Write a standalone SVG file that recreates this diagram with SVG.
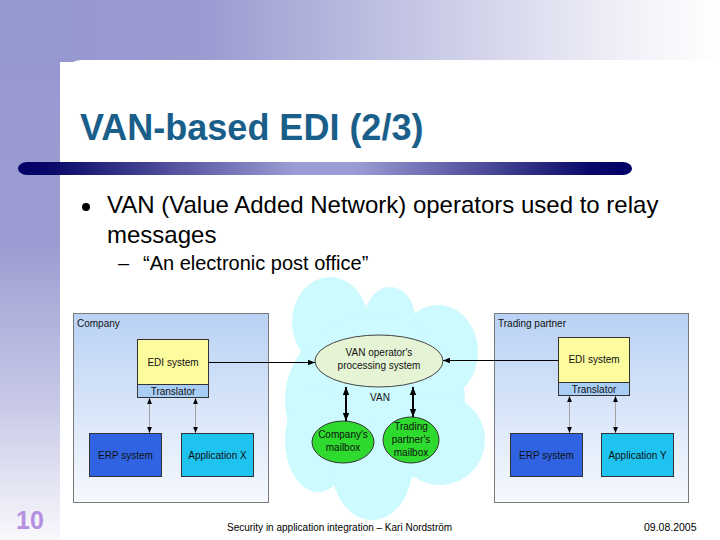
<svg xmlns="http://www.w3.org/2000/svg" width="720" height="540" viewBox="0 0 720 540">
<defs>
<linearGradient id="topband" x1="0" y1="0" x2="1" y2="0">
<stop offset="0" stop-color="#9597CF"/>
<stop offset="0.28" stop-color="#999BD1"/>
<stop offset="0.6" stop-color="#C9CAE6"/>
<stop offset="0.85" stop-color="#EEEEF7"/>
<stop offset="1" stop-color="#FFFFFF"/>
</linearGradient>
<linearGradient id="leftband" x1="0" y1="0" x2="0" y2="1">
<stop offset="0" stop-color="#9597CF"/>
<stop offset="0.45" stop-color="#9B9DD2"/>
<stop offset="0.75" stop-color="#C8C9E7"/>
<stop offset="1" stop-color="#F8F8FC"/>
</linearGradient>
<linearGradient id="bar" x1="0" y1="0" x2="1" y2="0">
<stop offset="0" stop-color="#000066"/>
<stop offset="0.06" stop-color="#0A0A6A"/>
<stop offset="0.45" stop-color="#9C9CD4"/>
<stop offset="0.55" stop-color="#9C9CD4"/>
<stop offset="0.93" stop-color="#0A0A6A"/>
<stop offset="1" stop-color="#000066"/>
</linearGradient>
<linearGradient id="org" x1="0" y1="0" x2="0" y2="1">
<stop offset="0" stop-color="#B9D1F4"/>
<stop offset="1" stop-color="#F6F9FE"/>
</linearGradient>
<marker id="ah" viewBox="0 0 10 10" refX="10" refY="5" markerWidth="7" markerHeight="7" markerUnits="userSpaceOnUse" orient="auto-start-reverse">
<path d="M0,1 L10,5 L0,9 z" fill="#000"/>
</marker>
<marker id="ahs" viewBox="0 0 10 10" refX="10" refY="5" markerWidth="6" markerHeight="6" markerUnits="userSpaceOnUse" orient="auto-start-reverse">
<path d="M0,1 L10,5 L0,9 z" fill="#000"/>
</marker>
<marker id="ahb" viewBox="0 0 10 10" refX="10" refY="5" markerWidth="8" markerHeight="8" markerUnits="userSpaceOnUse" orient="auto-start-reverse">
<path d="M0,1 L10,5 L0,9 z" fill="#000"/>
</marker>
<style>
.t{font-family:"Liberation Sans",Arial,sans-serif;fill:#000}
.d{font-family:"Liberation Sans",Arial,sans-serif;font-size:10px;fill:#111}
.c{text-anchor:middle}
.org{fill:url(#org);stroke:#7A7A7A;stroke-width:1}
.box{stroke:#333;stroke-width:1}
.edi{fill:#FCFB9E}
.tr{fill:#A9CEF5}
.erp{fill:#2F63E2}
.app{fill:#1FC3F0}
.cloud{fill:#CCFAFE}
.van{fill:#E5F4D5;stroke:#444;stroke-width:1}
.mb{fill:#2DDA2D;stroke:#333;stroke-width:1}
.gl{stroke:#A0A0A0;stroke-width:1;fill:none;marker-start:url(#ahs);marker-end:url(#ahs)}
.bl{stroke:#000;stroke-width:1;fill:none;marker-end:url(#ah)}
.tk{stroke:#000;stroke-width:2;fill:none;marker-start:url(#ahb);marker-end:url(#ahb)}
</style>
</defs>

<!-- background -->
<rect x="0" y="0" width="720" height="540" fill="#FFFFFF"/>
<rect x="0" y="0" width="720" height="62" fill="url(#topband)"/>
<rect x="0" y="0" width="60" height="540" fill="url(#leftband)"/>
<rect x="0" y="0" width="60" height="62" fill="#9597CF"/>
<path d="M60,540 L60,82 A22,22 0 0 1 82,60 L720,60 L720,540 Z" fill="#FFFFFF"/>

<!-- title -->
<text x="80" y="140" font-family="'Liberation Sans',Arial,sans-serif" font-size="36" font-weight="bold" fill="#1A5E8A">VAN-based EDI (2/3)</text>
<rect x="18" y="162" width="614" height="13" rx="9" ry="6.5" fill="url(#bar)"/>

<!-- bullets -->
<circle cx="86" cy="207" r="4" fill="#000"/>
<text class="t" x="107" y="213" font-size="24">VAN (Value Added Network) operators used to relay</text>
<text class="t" x="107" y="243" font-size="24">messages</text>
<text class="t" x="118" y="270" font-size="20">–</text>
<text class="t" x="143" y="270" font-size="20">“An electronic post office”</text>

<!-- cloud -->
<g id="cloud" class="cloud">
<ellipse cx="330" cy="322" rx="38" ry="45"/>
<ellipse cx="390" cy="318" rx="25" ry="31"/>
<ellipse cx="438" cy="352" rx="40" ry="47"/>
<ellipse cx="375" cy="400" rx="90" ry="85"/>
<ellipse cx="318" cy="440" rx="33" ry="52"/>
<ellipse cx="372" cy="468" rx="40" ry="52"/>
<ellipse cx="440" cy="440" rx="45" ry="45"/>
</g>

<!-- company -->
<g id="company">
<rect class="org" x="73.5" y="313.5" width="195" height="189"/>
<text class="d" x="77" y="327">Company</text>
</g>
<g id="company-edi">
<rect class="box edi" x="137.5" y="339.5" width="71" height="45"/>
<rect class="box tr" x="137.5" y="384.5" width="71" height="13"/>
<text class="d c" x="173" y="366">EDI system</text>
<text class="d c" x="173" y="395">Translator</text>
</g>
<g id="company-erp">
<rect class="box erp" x="89.5" y="433.5" width="72" height="43"/>
<text class="d c" x="125.5" y="459">ERP system</text>
</g>
<g id="company-appx">
<rect class="box app" x="181.5" y="433.5" width="72" height="43"/>
<text class="d c" x="217.5" y="459">Application X</text>
</g>

<!-- trading partner -->
<g id="partner">
<rect class="org" x="494.5" y="313.5" width="194" height="189"/>
<text class="d" x="498" y="327">Trading partner</text>
</g>
<g id="partner-edi">
<rect class="box edi" x="558.5" y="337.5" width="71" height="45"/>
<rect class="box tr" x="558.5" y="382.5" width="71" height="13"/>
<text class="d c" x="594" y="363">EDI system</text>
<text class="d c" x="594" y="393">Translator</text>
</g>
<g id="partner-erp">
<rect class="box erp" x="510.5" y="433.5" width="72" height="43"/>
<text class="d c" x="546.5" y="459">ERP system</text>
</g>
<g id="partner-appy">
<rect class="box app" x="601.5" y="433.5" width="72" height="43"/>
<text class="d c" x="637.5" y="459">Application Y</text>
</g>

<!-- VAN -->
<g id="van-proc">
<ellipse class="van" cx="379" cy="361" rx="64" ry="26"/>
<text class="d c" x="379" y="356">VAN operator's</text>
<text class="d c" x="379" y="369">processing system</text>
</g>
<text class="d c" x="380" y="401">VAN</text>
<g id="company-mailbox">
<ellipse class="mb" cx="343" cy="442" rx="31" ry="21"/>
<text class="d c" x="343" y="438">Company's</text>
<text class="d c" x="343" y="451">mailbox</text>
</g>
<g id="partner-mailbox">
<ellipse class="mb" cx="411" cy="440" rx="28" ry="23"/>
<text class="d c" x="411" y="430">Trading</text>
<text class="d c" x="411" y="443">partner's</text>
<text class="d c" x="411" y="456">mailbox</text>
</g>

<!-- connectors -->
<g id="connectors">
<path class="bl" d="M208.5,362.5 L315,362.5"/>
<path class="bl" d="M558,360.5 L443,360.5"/>
<path class="gl" d="M149.5,398 L149.5,433"/>
<path class="gl" d="M195.5,398 L195.5,433"/>
<path class="gl" d="M569.5,396 L569.5,433"/>
<path class="gl" d="M615.5,396 L615.5,433"/>
<path class="tk" d="M346,387 L346,421"/>
<path class="tk" d="M413,387 L413,417"/>
</g>

<!-- footer -->
<text x="16" y="529" font-family="'Liberation Sans',Arial,sans-serif" font-size="25" font-weight="bold" fill="#B590E2">10</text>
<text class="t" x="227" y="531" font-size="10">Security in application integration – Kari Nordström</text>
<text class="t" x="644" y="531" font-size="10.5">09.08.2005</text>
</svg>
